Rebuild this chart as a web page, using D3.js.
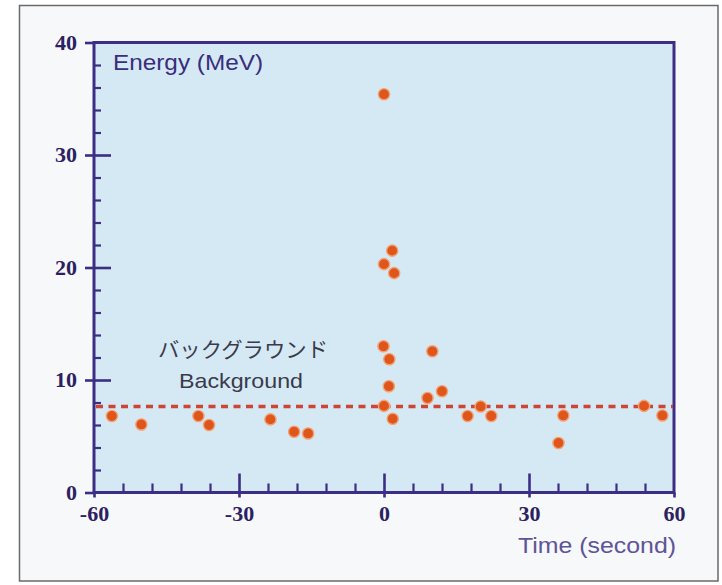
<!DOCTYPE html>
<html>
<head>
<meta charset="utf-8">
<script src="https://cdn.jsdelivr.net/npm/d3@7"></script>
<style>
html,body{margin:0;padding:0;background:#ffffff;}
svg{display:block;}
</style>
</head>
<body>
<svg id="chart" width="722" height="585"></svg>
<script>
// ---- data ----
const timeSec   = [-56.3,-50.2,-38.4,-36.2,-23.5,-18.6,-15.7, 0.0,1.7,0.0,2.1, -0.1,1.1,1.0,0.0,1.8, 10.0,9.0,12.0, 17.3,20.0,22.2, 36.1,37.1, 53.8,57.6];
const energyMeV = [6.8,6.05,6.8,6.0,6.5,5.4,5.25, 35.4,21.5,20.3,19.5, 13.0,11.85,9.45,7.7,6.55, 12.55,8.4,9.0, 6.8,7.65,6.8, 4.4,6.85, 7.7,6.85];
const backgroundLevel = 7.65;
const xMajorTicks = [-60,-30,0,30,60];
const xTickLabels = ["-60","-30","0","30","60"];
const xMinorTicks = [-54,-48,-42,-36,-24,-18,-12,-6,6,12,18,24,36,42,48,54];
const yMajorTicks = [0,10,20,30,40];
const yTickLabels = ["0","10","20","30","40"];
const yMinorTicks = [2,4,6,8,12,14,16,18,22,24,26,28,32,34,36,38];
const yAxisTitle = "Energy (MeV)";
const xAxisTitle = "Time (second)";
const bgLabelJa = "バックグラウンド";
const bgLabelEn = "Background";

// ---- layout ----
const svg = d3.select("#chart");
const L = 94, R = 674, T = 42.5, B = 492.5;
const x = d3.scaleLinear().domain([-60,60]).range([L,R]);
const y = d3.scaleLinear().domain([0,40]).range([B,T]);
const axisColor = "#3b2e84";
const labelColor = "#2c2160";

// outer frame
svg.append("rect").attr("x",19.5).attr("y",5.5).attr("width",698.5).attr("height",575.5)
  .attr("fill","#f6f8fa").attr("stroke","#6a6a6a").attr("stroke-width",1.5);

// plot background
svg.append("rect").attr("x",L).attr("y",T).attr("width",R-L).attr("height",B-T)
  .attr("fill","#d5e9f5");

function styleAxis(g, w){
  g.select(".domain").remove();
  g.selectAll(".tick line").attr("stroke",axisColor).attr("stroke-width",w);
}

// y minor ticks (inward)
svg.append("g").attr("transform",`translate(${L},0)`)
  .call(d3.axisRight(y).tickValues(yMinorTicks).tickSize(7).tickFormat(""))
  .call(g=>styleAxis(g,2.2));
// y major ticks inward
svg.append("g").attr("transform",`translate(${L},0)`)
  .call(d3.axisRight(y).tickValues([10,20,30]).tickSize(17).tickFormat(""))
  .call(g=>styleAxis(g,2.6));
// y major ticks outward with labels
svg.append("g").attr("transform",`translate(${L},0)`)
  .call(d3.axisLeft(y).tickValues(yMajorTicks).tickSize(9).tickPadding(8)
        .tickFormat((d,i)=>yTickLabels[i]))
  .call(g=>styleAxis(g,2.6))
  .call(g=>g.selectAll(".tick text")
     .attr("font-family","'Liberation Serif','DejaVu Serif',serif")
     .attr("font-weight","bold").attr("font-size","22px").attr("fill",labelColor)
     .attr("dy","0.30em"));

// x minor ticks (upward)
svg.append("g").attr("transform",`translate(0,${B})`)
  .call(d3.axisTop(x).tickValues(xMinorTicks).tickSize(9).tickFormat(""))
  .call(g=>styleAxis(g,2.2));
// x major ticks upward
svg.append("g").attr("transform",`translate(0,${B})`)
  .call(d3.axisTop(x).tickValues([-30,0,30]).tickSize(19).tickFormat(""))
  .call(g=>styleAxis(g,2.6));
// x major ticks downward with labels
svg.append("g").attr("transform",`translate(0,${B})`)
  .call(d3.axisBottom(x).tickValues(xMajorTicks).tickSize(5).tickPadding(8)
        .tickFormat((d,i)=>xTickLabels[i]))
  .call(g=>styleAxis(g,2.6))
  .call(g=>g.selectAll(".tick text")
     .attr("font-family","'Liberation Serif','DejaVu Serif',serif")
     .attr("font-weight","bold").attr("font-size","22px").attr("fill",labelColor)
     .attr("dy","0.72em"));

// plot frame
svg.append("rect").attr("x",L).attr("y",T).attr("width",R-L).attr("height",B-T)
  .attr("fill","none").attr("stroke",axisColor).attr("stroke-width",3);

// background dashed line
svg.append("line")
  .attr("x1",x(-60)+2).attr("x2",x(60)-1)
  .attr("y1",y(backgroundLevel)).attr("y2",y(backgroundLevel))
  .attr("stroke","#cc4535").attr("stroke-width",3.5)
  .attr("stroke-dasharray","7,5.5");

// points
svg.append("g").selectAll("circle")
  .data(timeSec.map((t,i)=>({t, e: energyMeV[i]})))
  .join("circle")
  .attr("cx",d=>x(d.t)).attr("cy",d=>y(d.e)).attr("r",5.6)
  .attr("fill","#de561c").attr("stroke","#f2a377").attr("stroke-width",1.4);

// texts
svg.append("text").attr("x",113).attr("y",70).text(yAxisTitle)
  .attr("font-family","'Liberation Sans',Arial,sans-serif").attr("font-size","22px")
  .attr("fill","#3a2d7c").attr("textLength",150).attr("lengthAdjust","spacingAndGlyphs");

svg.append("text").attr("x",676).attr("y",553).attr("text-anchor","end").text(xAxisTitle)
  .attr("font-family","'Liberation Sans',Arial,sans-serif").attr("font-size","22px")
  .attr("fill","#5e5496").attr("textLength",158).attr("lengthAdjust","spacingAndGlyphs");

svg.append("text").attr("x",158).attr("y",357).text(bgLabelJa)
  .attr("font-family","'Noto Sans CJK JP',sans-serif").attr("font-size","21px")
  .attr("fill","#3a3a4a").attr("textLength",170).attr("lengthAdjust","spacingAndGlyphs");

svg.append("text").attr("x",179).attr("y",388).text(bgLabelEn)
  .attr("font-family","'Liberation Sans',Arial,sans-serif").attr("font-size","21px")
  .attr("fill","#3a3a4a").attr("textLength",124).attr("lengthAdjust","spacingAndGlyphs");
</script>
</body>
</html>
